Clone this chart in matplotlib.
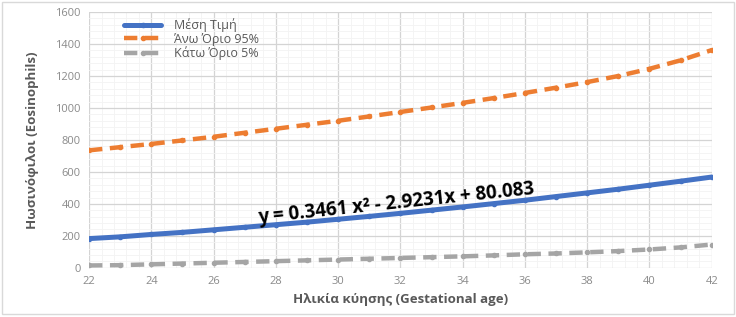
import matplotlib.pyplot as plt
from matplotlib.ticker import MultipleLocator
from matplotlib.patches import Rectangle

weeks = list(range(22, 43))
mean_vals = [183, 194, 209, 222, 238, 254, 270, 286, 304, 322, 341,
             361, 381, 402, 423, 446, 469, 492, 517, 542, 568]
upper_vals = [735, 755, 775, 797, 820, 845, 870, 895, 920, 947, 975,
              1003, 1032, 1062, 1094, 1127, 1162, 1200, 1245, 1298, 1362]
lower_vals = [15, 17, 22, 27, 32, 37, 42, 47, 52, 57, 62,
              67, 72, 78, 85, 90, 97, 105, 115, 128, 146]
labels = ['Μέση Τιμή', 'Άνω Όριο 95%', 'Κάτω Όριο 5%']
equation = 'y = 0.3461 x² - 2.9231x + 80.083'

plt.rcParams['font.family'] = ['Open Sans', 'DejaVu Sans']

fig = plt.figure(figsize=(7.36, 3.17), dpi=100)
ax = fig.add_axes([0.121, 0.155, 0.846, 0.807])

ax.plot(weeks, mean_vals, color='#4472C4', lw=3.6, marker='o', ms=3,
        solid_capstyle='round', label=labels[0], zorder=3)
ax.plot(weeks, upper_vals, color='#ED7D31', lw=3.2, marker='o', ms=3,
        dashes=(3, 1.7), label=labels[1], zorder=3)
ax.plot(weeks, lower_vals, color='#A5A5A5', lw=3.2, marker='o', ms=3,
        dashes=(3, 1.7), label=labels[2], zorder=3)

ax.set_xlim(22, 42)
ax.set_ylim(0, 1600)
ax.xaxis.set_major_locator(MultipleLocator(2))
ax.yaxis.set_major_locator(MultipleLocator(200))
ax.xaxis.set_minor_locator(MultipleLocator(0.4))
ax.yaxis.set_minor_locator(MultipleLocator(40))
ax.grid(which='major', color='#d4d4d4', lw=0.9)
ax.grid(which='minor', color='#f3f3f3', lw=0.6)
ax.set_axisbelow(True)
for s in ax.spines.values():
    s.set_visible(False)
ax.tick_params(which='both', length=0, labelsize=8, labelcolor='#8a8a8a', pad=6)

ax.set_xlabel('Ηλικία κύησης (Gestational age)', fontsize=9.5,
              fontweight='bold', color='#595959', labelpad=4)
ax.set_ylabel('Ηωσινόφιλοι (Eosinophils)', fontsize=9.5,
              fontweight='bold', color='#595959', labelpad=12)

ax.text(31.85, 400, equation, fontsize=13.5, fontweight='bold', color='black',
        rotation=6, ha='center', va='center', zorder=4)

leg = ax.legend(loc='upper left', bbox_to_anchor=(0.038, 1.02), frameon=False,
                fontsize=9, handlelength=3.0, handletextpad=1.0, labelspacing=0.05)
for t in leg.get_texts():
    t.set_color('#595959')

fig.patches.append(Rectangle((0.003, 0.01), 0.994, 0.985, transform=fig.transFigure,
                             fill=False, edgecolor='#d9d9d9', lw=1))

fig.savefig('out.png', dpi=100)
